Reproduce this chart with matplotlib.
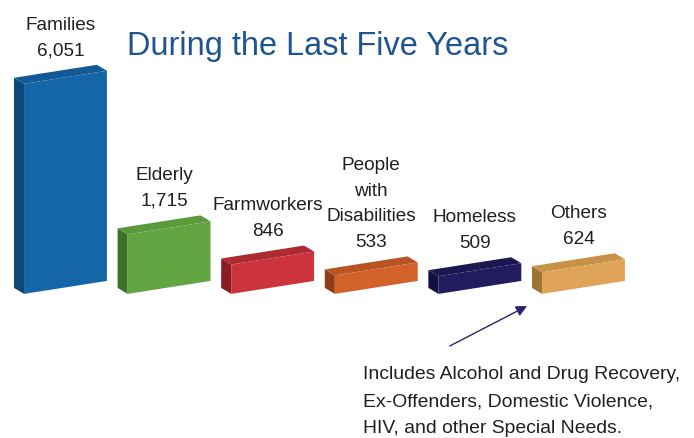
import numpy as np
import matplotlib.pyplot as plt
from matplotlib.patches import Polygon

plt.rcParams['font.family'] = ['Liberation Sans', 'DejaVu Sans']

# data
categorias = ['Families', 'Elderly', 'Farmworkers', 'People\nwith\nDisabilities', 'Homeless', 'Others']
valores = [6051, 1715, 846, 533, 509, 624]
rotulos = ['6,051', '1,715', '846', '533', '509', '624']
nota = 'Includes Alcohol and Drug Recovery,\nEx-Offenders, Domestic Violence,\nHIV, and other Special Needs.'
titulo = 'During the Last Five Years'

# cores: frente, topo, lado
frente = ['#1466a9', '#64a543', '#cc333c', '#d2622a', '#221c5e', '#e0a458']
topo = ['#125a96', '#5a9a3c', '#ae2a32', '#b85424', '#1c1750', '#c99148']
lado = ['#0c4878', '#3e7128', '#891c22', '#8e3f18', '#140f3e', '#a07233']

W, H = 694, 439
fig = plt.figure(figsize=(W / 100, H / 100), dpi=100)
ax = fig.add_axes([0, 0, 1, 1])
ax.set_xlim(-0.632, 6.067)
ax.set_ylim(-4150, 8493)
ax.axis('off')
renderer = fig.canvas.get_renderer()


def ajusta_largura(t, largura_px):
    # muda o tamanho da fonte pra texto ficar com a largura do original
    w = t.get_window_extent(renderer).width
    t.set_fontsize(t.get_fontsize() * largura_px / w)


# geometria do efeito 3D
larg = 0.80
inclin = 374      # subida da face frontal da esquerda pra direita
dx, dy = -0.097, 173   # profundidade

# tamanho dos rótulos pelo "Farmworkers"
teste = ax.text(0, 0, 'Farmworkers', fontsize=14)
ajusta_largura(teste, 112)
tam_rotulo = teste.get_fontsize()
teste.remove()

for i, v in enumerate(valores):
    x0 = i - larg / 2
    x1 = i + larg / 2
    # lado esquerdo
    ax.add_patch(Polygon([(x0, 0), (x0, v), (x0 + dx, v + dy), (x0 + dx, dy)],
                         closed=True, fc=lado[i], ec='none'))
    # topo
    ax.add_patch(Polygon([(x0, v), (x1, v + inclin), (x1 + dx, v + inclin + dy), (x0 + dx, v + dy)],
                         closed=True, fc=topo[i], ec='none'))
    # frente
    ax.add_patch(Polygon([(x0, 0), (x1, inclin), (x1, v + inclin), (x0, v)],
                         closed=True, fc=frente[i], ec='none'))
    ax.text(i + dx / 2, v + inclin / 2 + dy + 380, categorias[i] + '\n' + rotulos[i],
            ha='center', va='bottom', fontsize=tam_rotulo, color='#231f20', linespacing=1.65)

t = fig.text(127 / W, 1 - 55 / H, titulo, fontsize=30, color='#1e5590',
             ha='left', va='baseline')
ajusta_largura(t, 381)

ax.annotate('', xy=(4.455, -350), xytext=(3.71, -1500),
            arrowprops=dict(arrowstyle='-|>', color='#27246b', lw=1.0,
                            mutation_scale=16, shrinkA=0, shrinkB=0))

# va='baseline' alinha pela última linha
t = fig.text(363 / W, 1 - 433 / H, nota, fontsize=14, color='#231f20',
             ha='left', va='baseline', linespacing=1.75)
ajusta_largura(t, 319)

plt.savefig('out.png', dpi=100)
